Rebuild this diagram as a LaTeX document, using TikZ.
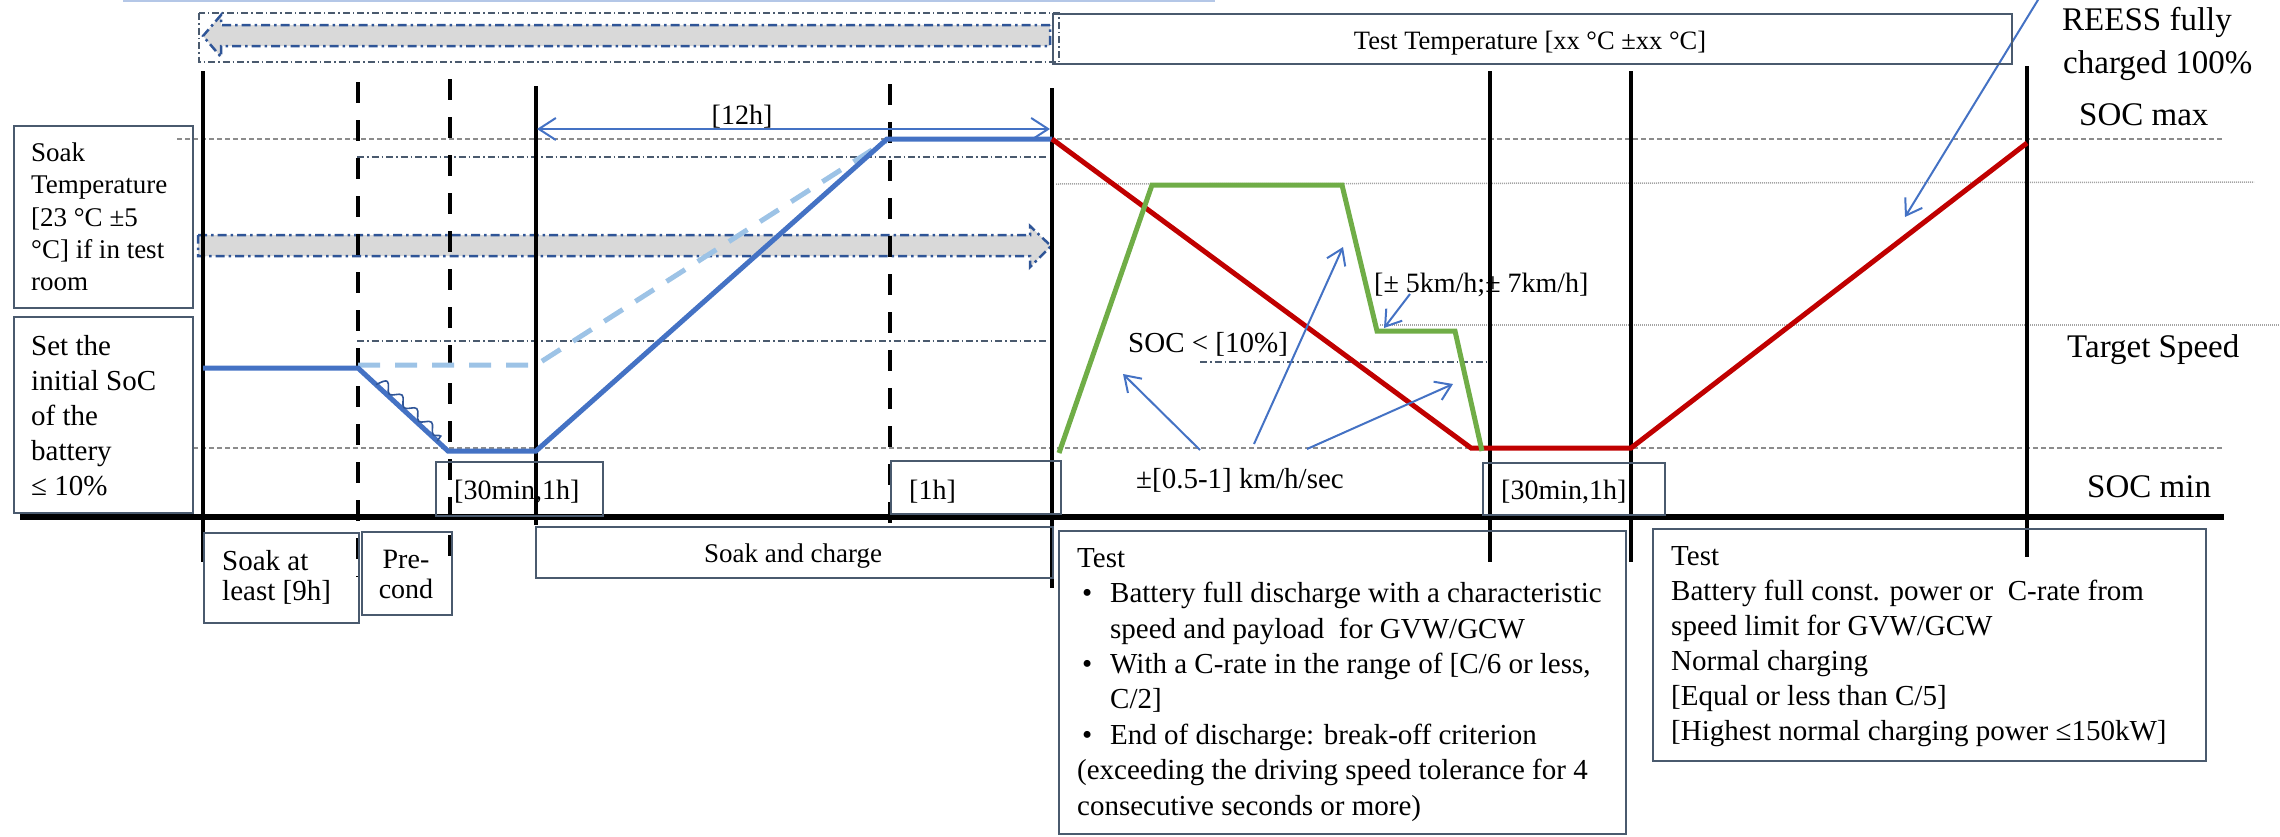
\documentclass[tikz,border=0pt]{standalone}
\usepackage{fontspec}
\setmainfont{Liberation Serif}
\usetikzlibrary{arrows.meta,decorations.pathmorphing,calc}
\definecolor{socblue}{HTML}{4472C4}
\definecolor{lightsoc}{HTML}{9DC3E6}
\definecolor{socred}{HTML}{C00000}
\definecolor{spgreen}{HTML}{70AD47}
\definecolor{darkblue}{HTML}{2F5597}
\definecolor{bandgrey}{HTML}{D9D9D9}
\definecolor{slate}{HTML}{4A5A6E}
\definecolor{topline}{HTML}{B4C7E7}
\definecolor{gridgrey}{HTML}{8C8C8C}
\newcommand\myst[1]{\rule{0pt}{#1}}
\begin{document}
\begin{tikzpicture}[x=1pt,y=-1pt,
  boxnode/.style={draw=slate, line width=1.8pt, rectangle, inner sep=0pt, anchor=north west},
  txt/.style={inner sep=0pt, anchor=base west},
  mtxt/.style={inner sep=0pt, anchor=north west, align=left},
  vsolid/.style={black, line width=4.5pt},
  vdashed/.style={black, line width=4.5pt, dash pattern=on 21pt off 17pt},
  greydash/.style={gridgrey, line width=1.5pt, dash pattern=on 5pt off 3pt},
  greydot/.style={gridgrey!80, line width=1.5pt, dash pattern=on 1.2pt off 0.8pt},
  thindashdot/.style={slate, line width=1.2pt, dash pattern=on 7pt off 3pt on 1.5pt off 3pt},
  bandarrow/.style={fill=bandgrey, draw=darkblue, line width=2.5pt, dash pattern=on 9pt off 4pt on 2.5pt off 4pt},
  annot/.style={socblue, line width=2pt, -{Straight Barb[length=15pt,width=20pt,line width=2pt]}},
  dimarrow/.style={socblue, line width=2pt, {Straight Barb[length=17pt,width=22pt,line width=2pt]}-{Straight Barb[length=17pt,width=22pt,line width=2pt]}},
  socline/.style={socblue, line width=5pt, line join=miter},
  redline/.style={socred, line width=5pt},
  greenline/.style={spgreen, line width=5pt},
]
\useasboundingbox (0,0) rectangle (2280,836);

% top partial line
\draw[topline, line width=2pt] (123,1) -- (1215,1);

% grid lines
\draw[greydash] (177,139) -- (2223,139);
\draw[greydash] (193,448) -- (2222,448);
\draw[thindashdot] (357,157) -- (1047,157);
\draw[thindashdot] (357,341) -- (1047,341);
\draw[thindashdot] (1200,362) -- (1486,362);
\draw[greydot] (1056,184) -- (2254,182);
\draw[greydot] (1380,325) -- (2280,325);

% temperature bands
\draw[slate, line width=1.2pt, dash pattern=on 7pt off 3pt on 1.5pt off 3pt] (199,13) rectangle (1059,62);
\draw[bandarrow] (1050,25) -- (221,25) -- (221,15) -- (203,36) -- (221,57) -- (221,46) -- (1050,46) -- cycle;
\draw[bandarrow] (198,235) -- (1030,235) -- (1030,226) -- (1051,246) -- (1030,267) -- (1030,256) -- (198,256) -- cycle;

% vertical phase lines
\draw[vsolid] (203,71) -- (203,562);
\draw[vdashed] (358,82) -- (358,577);
\draw[vdashed] (450,79) -- (450,563);
\draw[vsolid] (536,86) -- (536,525);
\draw[vdashed] (890,84) -- (890,525);
\draw[vsolid] (1052,88) -- (1052,588);
\draw[vsolid] (1490,71) -- (1490,562);
\draw[vsolid] (1631,71) -- (1631,562);
\draw[vsolid] (2027,66) -- (2027,557);

% time axis
\draw[black, line width=5.5pt] (20,517) -- (2224,517);

% SOC curves
\draw[lightsoc, line width=5pt, dash pattern=on 22pt off 15pt] (358,365) -- (536,365) -- (886,141);
\coordinate (p1) at (358,368);
\coordinate (p2) at (448,451);
\draw[socline] (203,368) -- (p1) -- (p2) -- (536,451) -- (887,139) -- (1052,139);
\draw[darkblue, line width=1.6pt, decorate, decoration={snake, segment length=20pt, amplitude=4pt, raise=6pt}]
  ($(p1)!0.2!(p2)$) -- ($(p1)!0.88!(p2)$);
\draw[redline] (1052,139) -- (1471,448) -- (1631,448) -- (2027,143);
\draw[greenline, line join=miter] (1059,453) -- (1152,185) -- (1342,185) -- (1377,331) -- (1455,331) -- (1482,451);

% dimension arrow
\coordinate (d1) at (537,129);
\coordinate (d2) at (1050,129);
\draw[dimarrow] (d1) -- (d2);
\node[inner sep=0pt, anchor=base, font=\fontsize{28}{33}\selectfont] (l12h) at (742,124) {[12h]};

% annotation arrows
\coordinate (a1s) at (1200,450); \coordinate (a1e) at (1123,374);
\coordinate (a2s) at (1254,444); \coordinate (a2e) at (1343,247);
\coordinate (a3s) at (1307,449); \coordinate (a3e) at (1453,384);
\coordinate (a4s) at (1410,294); \coordinate (a4e) at (1384,328);
\coordinate (a5s) at (2041,-5); \coordinate (a5e) at (1905,217);
\draw[annot] (a1s) -- (a1e);
\draw[annot] (a2s) -- (a2e);
\draw[annot] (a3s) -- (a3e);
\draw[annot] (a4s) -- (a4e);
\draw[annot] (a5s) -- (a5e);

% boxes
\node[boxnode, line width=2.3pt, minimum width=959pt, minimum height=50pt] (ttbox) at (1052,13) {};
\node[boxnode, minimum width=179pt, minimum height=182pt] (soakTbox) at (13,125) {};
\node[boxnode, minimum width=179pt, minimum height=196pt] (setbox) at (13,316) {};
\node[boxnode, minimum width=167pt, minimum height=54pt] (b30a) at (435,461) {};
\node[boxnode, minimum width=170pt, minimum height=53pt] (b1h) at (890,460) {};
\node[boxnode, minimum width=182pt, minimum height=52pt] (b30b) at (1482,462) {};
\node[boxnode, minimum width=155pt, minimum height=90pt] (soakbox) at (203,532) {};
\node[boxnode, minimum width=90pt, minimum height=83pt] (prebox) at (361,531) {};
\node[boxnode, minimum width=517pt, minimum height=51pt] (scbox) at (535,526) {};
\node[boxnode, minimum width=567pt, minimum height=303pt] (test1box) at (1058,530) {};
\node[boxnode, minimum width=553pt, minimum height=232pt] (test2box) at (1652,528) {};

% texts
\node[inner sep=0pt, anchor=base, font=\fontsize{26.5}{31}\selectfont] (tttxt) at (1530,49) {Test Temperature [xx °C ±xx °C]};
\node[mtxt, font=\fontsize{27}{32.4}\selectfont] (soakTtxt) at (31,137) {\myst{24pt}Soak\\Temperature\\{}[23 °C ±5\\°C] if in test\\room};
\node[mtxt, font=\fontsize{29}{35}\selectfont] (settxt) at (31,331) {\myst{24pt}Set the\\initial SoC\\of the\\battery\\≤ 10\%};
\node[txt, font=\fontsize{28}{33}\selectfont] (t30a) at (454,499) {[30min,1h]};
\node[txt, font=\fontsize{28}{33}\selectfont] (t1h) at (909,499) {[1h]};
\node[txt, font=\fontsize{28}{33}\selectfont] (t30b) at (1501,499) {[30min,1h]};
\node[mtxt, font=\fontsize{29}{30}\selectfont] (soaktxt) at (222,546) {\myst{24pt}Soak at\\least [9h]};
\node[inner sep=0pt, anchor=north, align=center, font=\fontsize{28}{30}\selectfont] (pretxt) at (406,544) {\myst{24pt}Pre-\\cond};
\node[inner sep=0pt, anchor=base, font=\fontsize{27}{32}\selectfont] (sctxt) at (793,562) {Soak and charge};
\node[mtxt, font=\fontsize{29}{35.4}\selectfont] (test1txt) at (1077,543) {\myst{24pt}Test\\
\hspace*{5pt}\makebox[28pt][l]{•}Battery full discharge with a characteristic\\
\hspace*{33pt}speed and payload~ for GVW/GCW\\
\hspace*{5pt}\makebox[28pt][l]{•}With a C-rate in the range of [C/6 or less,\\
\hspace*{33pt}C/2]\\
\hspace*{5pt}\makebox[28pt][l]{•}End of discharge: break-off criterion\\
(exceeding the driving speed tolerance for 4\\
consecutive seconds or more)};
\node[mtxt, font=\fontsize{29}{35}\selectfont] (test2txt) at (1671,541) {\myst{24pt}Test\\
Battery full const. power or~ C-rate from\\
speed limit for GVW/GCW\\
Normal charging\\
{}[Equal or less than C/5]\\
{}[Highest normal charging power ≤150kW]};
\node[txt, font=\fontsize{33}{40}\selectfont] (reess1) at (2062,30) {REESS fully};
\node[txt, font=\fontsize{33}{40}\selectfont] (reess2) at (2063,73) {charged 100\%};
\node[txt, font=\fontsize{33}{40}\selectfont] (socmax) at (2079,125) {SOC max};
\node[txt, font=\fontsize{33}{40}\selectfont] (tspeed) at (2067,357) {Target Speed};
\node[txt, font=\fontsize{33}{40}\selectfont] (socmin) at (2087,497) {SOC min};
\node[txt, font=\fontsize{29}{35}\selectfont] (soc10) at (1128,352) {SOC < [10\%]};
\node[txt, font=\fontsize{28}{35}\selectfont] (tol) at (1374,292) {[± 5km/h;± 7km/h]};
\node[txt, font=\fontsize{29}{35}\selectfont] (acc) at (1136,488) {±[0.5-1] km/h/sec};
\end{tikzpicture}
\end{document}
